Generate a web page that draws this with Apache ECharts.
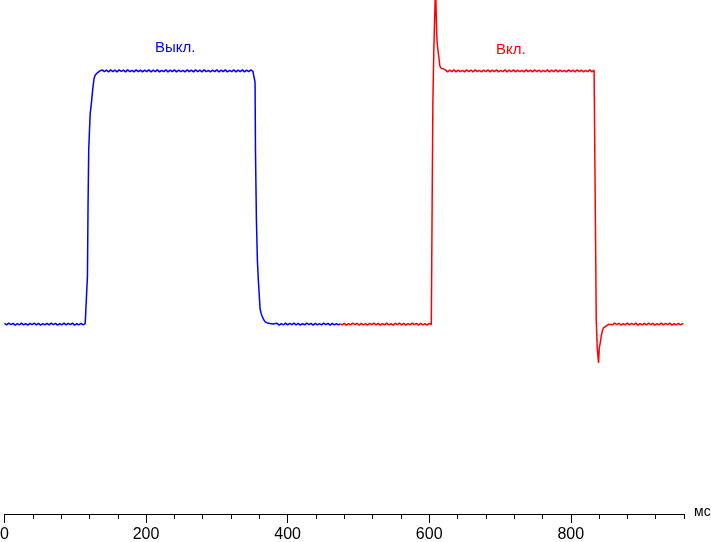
<!DOCTYPE html>
<html>
<head>
<meta charset="utf-8">
<script src="https://cdn.jsdelivr.net/npm/echarts@6/dist/echarts.min.js"></script>
<style>
html,body{margin:0;padding:0;background:#fff;}
#chart{width:711px;height:542px;}
</style>
</head>
<body>
<div id="chart"></div>
<script>
// ---- data ----
const seriesNames = ['Выкл.', 'Вкл.'];
const xUnit = 'мс';
const xMin = 0, xMax = 960, xTickStep = 40;
const xLabelValues = [0, 200, 400, 600, 800];
const yMin = -75, yMax = 128;

const blueData = [
[0,0.3],[3,-0.3],[6,0.4],[9,-0.2],[12,0.3],[15,-0.4],[18,0.2],[21,-0.3],[24,0.4],[27,-0.3],[30,0.2],[33,-0.4],[36,0.3],[39,-0.2],[42,0.4],[45,-0.3],[48,0.3],[51,-0.4],[54,0.2],[57,-0.3],[60,0.3],[63,-0.3],[66,0.4],[69,-0.2],[72,0.3],[75,-0.4],[78,0.2],[81,-0.3],[84,0.4],[87,-0.3],[90,0.3],[93,-0.2],[96,0.4],[99,-0.4],[102,0.2],[105,-0.3],[108,0.3],[111,-0.3],[114,0.2],
[116.6,0],[117.2,19],[118,46],[119,69],[121,83],[122.7,87],[124.7,93],[126.5,97],[128.3,98.4],[131,99.2],[135,100],[138,100.4],
[141,99.7],[144,100.3],[147,99.6],[150,100.4],[153,99.7],[156,100.3],[159,99.6],[162,100.4],[165,99.8],[168,100.3],[171,99.6],[174,100.4],[177,99.7],[180,100.2],[183,99.6],[186,100.4],[189,99.7],[192,100.3],[195,99.6],[198,100.3],[201,99.7],[204,100.4],[207,99.6],[210,100.3],[213,99.7],[216,100.4],[219,99.6],[222,100.2],[225,99.7],[228,100.4],[231,99.6],[234,100.3],[237,99.7],[240,100.4],[243,99.6],[246,100.3],[249,99.7],[252,100.2],[255,99.6],[258,100.4],[261,99.7],[264,100.3],[267,99.6],[270,100.4],[273,99.7],[276,100.3],[279,99.6],[282,100.4],[285,99.7],[288,100.2],[291,99.6],[294,100.3],[297,99.7],[300,100.4],[303,99.6],[306,100.3],[309,99.7],[312,100.4],[315,99.6],[318,100.2],[321,99.7],[324,100.4],[327,99.6],[330,100.3],[333,99.7],[336,100.4],[339,99.6],[342,100.3],[345,99.7],[348,100.4],[351,99.8],
[353.1,100],[354,95.5],[354.6,68],[355.9,41],[357.3,25],[358.7,17],[361.1,6],[362.5,4.3],[363.9,3.2],[365.8,2],[368.2,0.9],[372.9,0.3],[379.5,0],
[382,-0.3],[385,0.3],[388,-0.4],[391,0.2],[394,-0.3],[397,0.4],[400,-0.3],[403,0.3],[406,-0.2],[409,0.4],[412,-0.3],[415,0.3],[418,-0.4],[421,0.2],[424,-0.3],[427,0.4],[430,-0.2],[433,0.3],[436,-0.4],[439,0.3],[442,-0.3],[445,0.2],[448,-0.3],[451,0.4],[454,-0.2],[457,0.3],[460,-0.4],[463,0.3],[466,-0.3],[469,0.2],[472,-0.3],[474,0.1]
];

const redData = [
[474,0.1],[477,-0.3],[480,0.3],[483,-0.4],[486,0.2],[489,-0.3],[492,0.4],[495,-0.2],[498,0.3],[501,-0.4],[504,0.3],[507,-0.3],[510,0.2],[513,-0.4],[516,0.3],[519,-0.2],[522,0.4],[525,-0.3],[528,0.3],[531,-0.4],[534,0.2],[537,-0.3],[540,0.4],[543,-0.3],[546,0.2],[549,-0.4],[552,0.3],[555,-0.2],[558,0.4],[561,-0.3],[564,0.3],[567,-0.4],[570,0.2],[573,-0.3],[576,0.4],[579,-0.2],[582,0.3],[585,-0.4],[588,0.3],[591,-0.3],[594,0.2],[597,-0.4],[600,0.3],[603,-0.2],
[603.8,0],[604.2,48.6],[605.2,87],[606.6,109],[608,123.7],[609,135],[610,121],[611,112],[612.4,108],[614,104.7],[615,102],[617,101],[620,100.8],[623,100.4],
[626,99.6],[629,100.3],[632,99.7],[635,100.4],[638,99.6],[641,100.3],[644,99.7],[647,100.2],[650,99.6],[653,100.4],[656,99.7],[659,100.3],[662,99.6],[665,100.4],[668,99.7],[671,100.2],[674,99.6],[677,100.3],[680,99.7],[683,100.4],[686,99.6],[689,100.3],[692,99.7],[695,100.4],[698,99.6],[701,100.2],[704,99.7],[707,100.4],[710,99.6],[713,100.3],[716,99.7],[719,100.4],[722,99.6],[725,100.3],[728,99.7],[731,100.2],[734,99.6],[737,100.4],[740,99.7],[743,100.3],[746,99.6],[749,100.4],[752,99.7],[755,100.3],[758,99.6],[761,100.2],[764,99.7],[767,100.4],[770,99.6],[773,100.3],[776,99.7],[779,100.4],[782,99.6],[785,100.3],[788,99.7],[791,100.2],[794,99.6],[797,100.4],[800,99.7],[803,100.3],[806,99.6],[809,100.4],[812,99.7],[815,100.3],[818,99.6],[821,100.2],[824,99.7],[827,100.4],[830,99.6],[833,100.3],
[835,100],[836,2],[837.5,-9.9],[839.3,-15.3],[840.3,-9.4],[841.7,-7.4],[843.1,-4.7],[844.5,-2.8],[846.3,-1.5],[848.8,-0.8],[853.5,-0.1],
[856,0.3],[859,-0.3],[862,0.4],[865,-0.2],[868,0.3],[871,-0.4],[874,0.2],[877,-0.3],[880,0.4],[883,-0.3],[886,0.3],[889,-0.2],[892,0.4],[895,-0.4],[898,0.2],[901,-0.3],[904,0.3],[907,-0.3],[910,0.4],[913,-0.2],[916,0.3],[919,-0.4],[922,0.2],[925,-0.3],[928,0.4],[931,-0.3],[934,0.3],[937,-0.2],[940,0.4],[943,-0.4],[946,0.2],[949,-0.3],[952,0.3],[955,-0.3],[958,0.2],[959,0]
];

// ---- chart ----
const chart = echarts.init(document.getElementById('chart'), null, {renderer: 'canvas'});
const font = '"Liberation Sans", Arial, sans-serif';
const gridBox = {left: 4.5, right: 27, top: 0, bottom: 28, containLabel: false, outerBoundsMode: 'none'};

chart.setOption({
  animation: false,
  backgroundColor: '#ffffff',
  grid: [Object.assign({}, gridBox), Object.assign({}, gridBox)],
  xAxis: [{
    gridIndex: 0, type: 'value', min: xMin, max: xMax, interval: xTickStep,
    axisLine: {show: true, onZero: false, lineStyle: {color: '#000', width: 1}},
    axisTick: {show: true, length: 5, lineStyle: {color: '#000', width: 1}},
    axisLabel: {show: true, customValues: xLabelValues, color: '#000', fontSize: 16, fontFamily: font, margin: 13},
    splitLine: {show: false}
  }, {
    gridIndex: 1, type: 'value', min: xMin, max: xMax, interval: 200, position: 'bottom',
    axisLine: {show: true, onZero: false, lineStyle: {color: '#000', width: 1}},
    axisTick: {show: true, customValues: xLabelValues, length: 9, lineStyle: {color: '#000', width: 1}},
    axisLabel: {show: false},
    splitLine: {show: false}
  }],
  yAxis: [{
    gridIndex: 0, type: 'value', min: yMin, max: yMax, show: false,
    splitLine: {show: false}
  }, {
    gridIndex: 1, type: 'value', min: yMin, max: yMax, show: false,
    splitLine: {show: false}
  }],
  series: [{
    name: seriesNames[0], type: 'line', data: blueData, xAxisIndex: 0, yAxisIndex: 0,
    showSymbol: false, symbol: 'none', clip: true,
    lineStyle: {color: '#0000ff', width: 1.5}
  }, {
    name: seriesNames[1], type: 'line', data: redData, xAxisIndex: 0, yAxisIndex: 0,
    showSymbol: false, symbol: 'none', clip: true,
    lineStyle: {color: '#ff0000', width: 1.5}
  }],
  graphic: [
    {type: 'text', left: 155, top: 40, style: {text: seriesNames[0], fill: '#0000ff', font: '15px ' + font}},
    {type: 'text', left: 496, top: 42, style: {text: seriesNames[1], fill: '#ff0000', font: '15px ' + font}},
    {type: 'text', left: 694, top: 505, style: {text: xUnit, fill: '#000', font: '14px ' + font}}
  ]
});
</script>
</body>
</html>
